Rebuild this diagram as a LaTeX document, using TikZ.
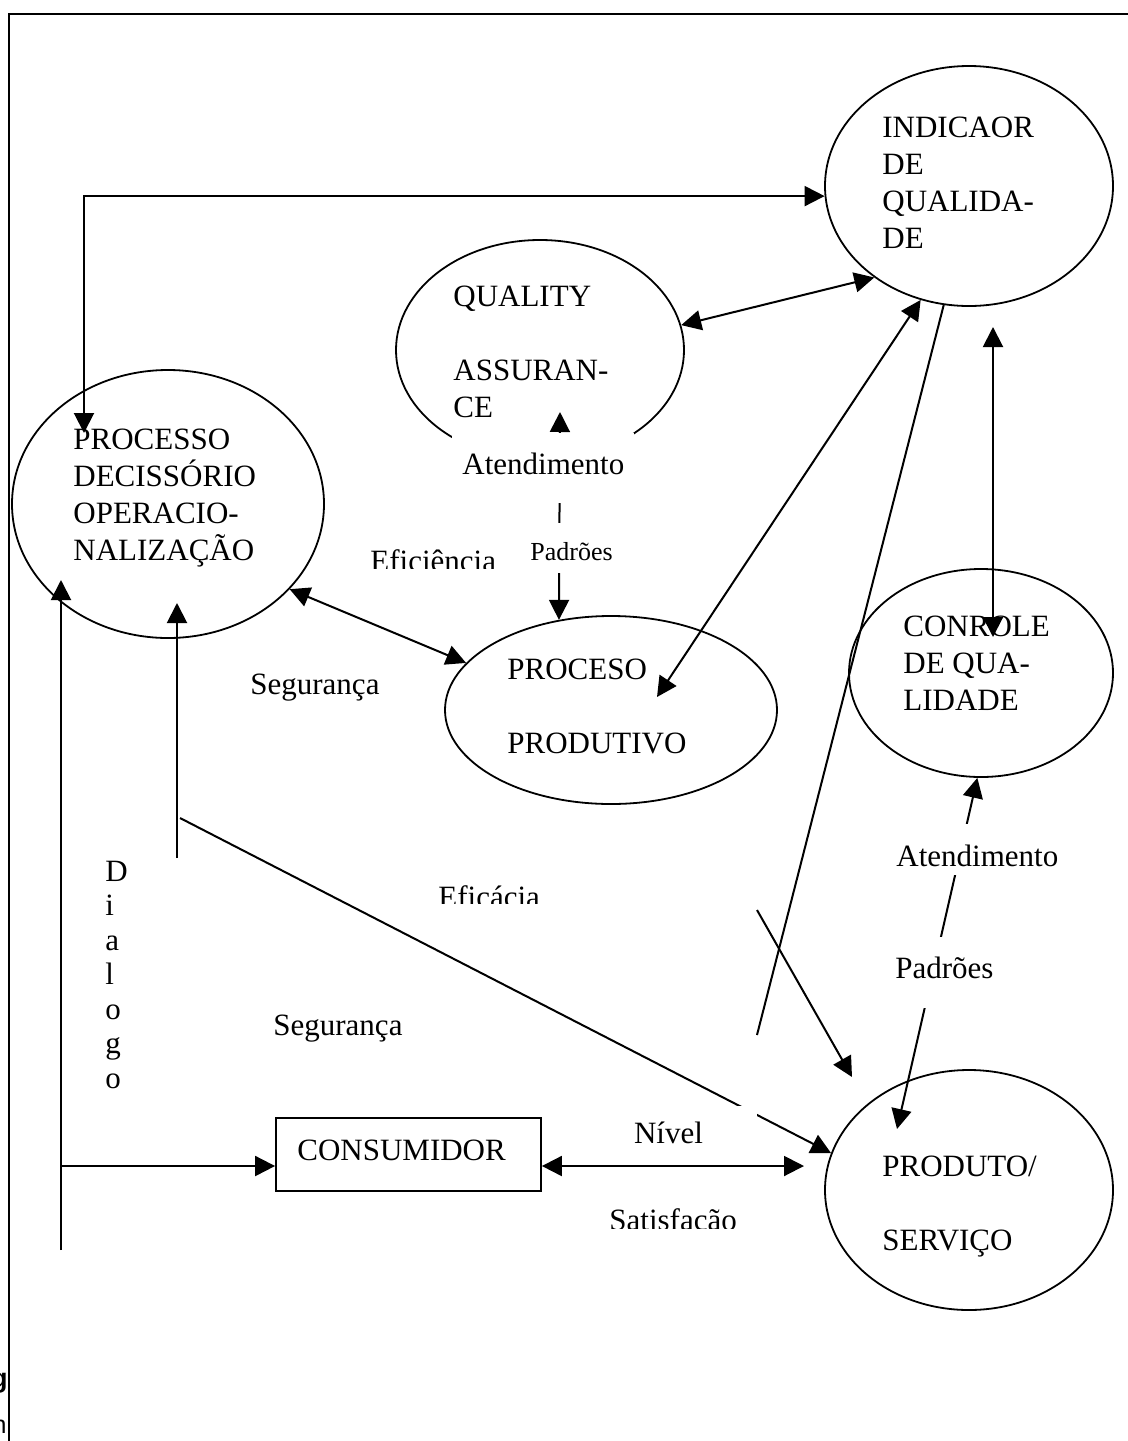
\documentclass[tikz,border=0pt]{standalone}
\usepackage{fontspec}
\setmainfont{Liberation Serif}
\setsansfont{Liberation Sans}
\usetikzlibrary{shapes.geometric, arrows.meta}

\begin{document}
\begin{tikzpicture} [x=0.5pt, y=-0.5pt, >={Triangle[length=10pt, width=10pt]},
        blob/.style = {draw, ellipse, line width=0.9pt, inner sep=0pt},
        txt/.style = {anchor=base west, inner sep=0pt, align=left,
                      font=\fontsize{15.5pt}{18.35pt}\selectfont},
        gapbox/.style = {txt, fill=white},
        oneway/.style = {->, line width=1pt},
        twoway/.style = {<->, line width=1pt},
        bare/.style = {line width=1pt}]
        \useasboundingbox (0,0) rectangle (1128,1441);
        \draw [line width=1.1pt] (1128,14) -- (9,14) -- (9,1441);

        % ellipses and box
        \node (ind)  [blob, minimum width=144pt, minimum height=120pt] at (969,186) {};
        \node (qa)   [blob, minimum width=144pt, minimum height=110pt] at (540,350) {};
        \node (proc) [blob, minimum width=156pt, minimum height=134pt] at (168,504) {};
        \node (prc)  [blob, minimum width=166pt, minimum height=94pt] at (611,710) {};
        \node (ctrl) [blob, minimum width=132pt, minimum height=104pt] at (981,673) {};
        \node (prod) [blob, minimum width=144pt, minimum height=120pt] at (969,1190) {};
        \node (cons) [draw, line width=0.9pt, minimum width=132.5pt, minimum height=36.5pt] at (408.5,1154.5) {};

        % base anchor sits on the last line
        \node (indTxt)  [txt] at (882,248) {INDICAOR\\DE\\QUALIDA-\\DE};
        \node (qaTxt)   [txt] at (453,417) {QUALITY\\[18.35pt]ASSURAN-\\CE};
        \node (procTxt) [txt] at (73,560) {PROCESSO\\DECISSÓRIO\\OPERACIO-\\NALIZAÇÃO};
        \node (prcTxt)  [txt] at (507,753) {PROCESO\\[18.35pt]PRODUTIVO};
        \node (ctrlTxt) [txt] at (903,710) {CONROLE\\DE QUA-\\LIDADE};
        \node (prodTxt) [txt] at (882,1250) {PRODUTO/\\[18.35pt]SERVIÇO};
        \node (consTxt) [txt] at (297,1160) {CONSUMIDOR};

        % loose ends
        \coordinate (procTop)   at (84,433);
        \coordinate (procLeft)  at (61,580);
        \coordinate (procLow)   at (177,603);
        \coordinate (leftEnd)   at (61,1250);
        \coordinate (branch)    at (61,1166);
        \coordinate (stubEnd)   at (177,858);
        \coordinate (diagStart) at (180,818);
        \coordinate (qaIn)      at (560,412);
        \coordinate (prcIn)     at (657,697);
        \coordinate (indBelow)  at (993,327);
        \coordinate (ctrlIn)    at (993,637);
        \coordinate (prodIn)    at (897,1129);
        \coordinate (lineEnd)   at (757,1035);
        \coordinate (arrStart)  at (757,910);
        \coordinate (prodOut)   at (852,1077);
        \coordinate (prodNear)  at (804,1166);

        \draw [twoway] (procTop) |- (ind.184);
        \path [twoway] (qa.10) edge (ind.224);
        \path [twoway] (prcIn) edge (ind.247);
        \path [twoway] (proc.-35) edge (prc.162);
        \path [twoway] (qaIn) edge (prc.120);
        \path [twoway] (indBelow) edge (ctrlIn);
        \path [twoway] (ctrl.268) edge (prodIn);
        \path [bare] (ind.258) edge (lineEnd);
        \path [oneway] (arrStart) edge (prodOut);
        \path [oneway] (stubEnd) edge (procLow);
        \path [oneway] (diagStart) edge (prod.165);
        \path [oneway] (leftEnd) edge (procLeft);
        \path [oneway] (branch) edge (cons.west |- branch);
        \path [twoway] (cons.east |- branch) edge (prodNear);

        % labels
        \node (atdMid) [gapbox, inner xsep=5pt, text height=20.5pt, text depth=14.5pt] at (452,474) {Atendimento};
        \node (padMid) [gapbox, font=\fontsize{13pt}{15pt}\selectfont, inner xsep=2pt, text height=18.5pt, text depth=6.5pt] at (526,560) {Padrões};
        \node (atdRight) [gapbox, inner xsep=2pt, text height=21pt, text depth=4.5pt] at (892,866) {Atendimento};
        \node (padRight) [gapbox, inner xsep=2pt, text height=20.5pt, text depth=15pt] at (891,978) {Padrões};
        \node (nivel) [gapbox, anchor=base, minimum width=88.5pt, text height=18.5pt, text depth=6pt] at (668.5,1143) {Nível};
        \node (segA) [txt] at (250,694) {Segurança};
        \node (segB) [txt] at (273,1035) {Segurança};
        \begin{scope}
            \clip (0,0) rectangle (1128,568);
            \node (efici) [txt] at (370,571) {Eficiência};
        \end{scope}
        \begin{scope}
            \clip (0,0) rectangle (1128,903);
            \node (efica) [txt] at (438,907) {Eficácia};
        \end{scope}
        \begin{scope}
            \clip (0,0) rectangle (1128,1228);
            \node (satis) [txt] at (609,1230) {Satisfação};
        \end{scope}
        \begin{scope}
            \clip (0,0) rectangle (1128,1095);
            \node (dial) [txt, font=\fontsize{15.5pt}{17.25pt}\selectfont] at (105,1088) {D\\i\\a\\l\\o\\g\\o};
        \end{scope}
        \begin{scope}
            \clip (0,1360) rectangle (8,1441);
            \node (fragG) [anchor=base east, inner sep=0pt, font=\sffamily\bfseries\fontsize{13.5pt}{16pt}\selectfont] at (8,1387) {g};
            \node (fragN) [anchor=base east, inner sep=0pt, font=\sffamily\fontsize{12.5pt}{15pt}\selectfont] at (7,1433) {n};
        \end{scope}
    \end{tikzpicture}
\end{document}
